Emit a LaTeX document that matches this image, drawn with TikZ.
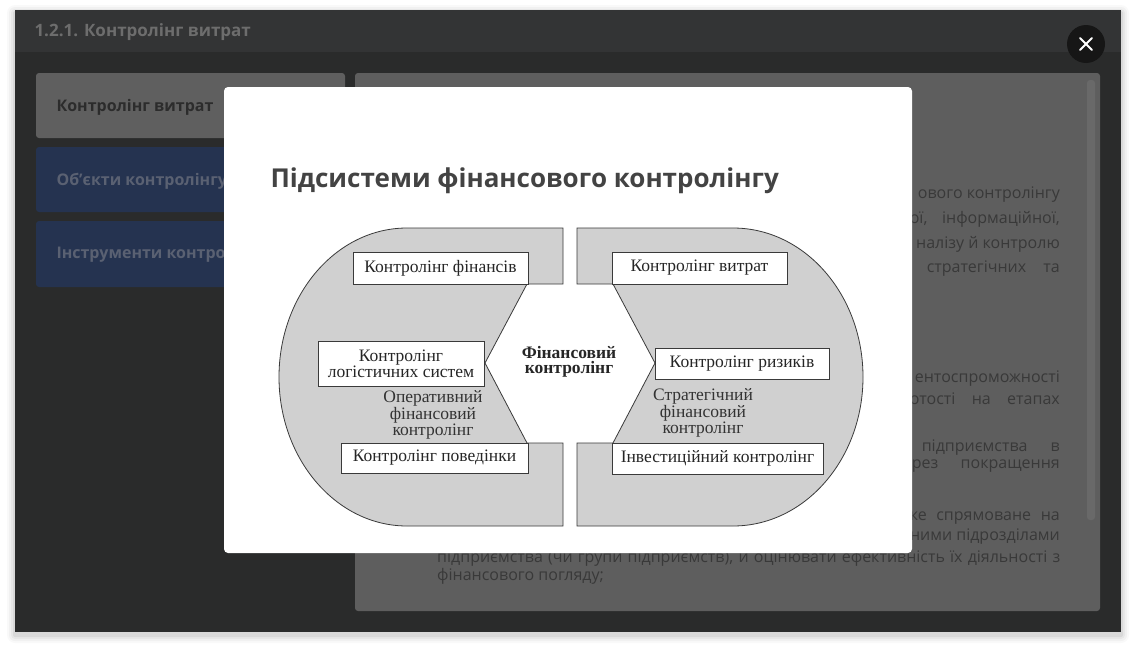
\documentclass[tikz,border=0pt]{standalone}
\usepackage{fontspec}
\setmainfont{Liberation Serif}
\newfontfamily\osans{Open Sans}
\definecolor{winhead}{HTML}{333435}
\definecolor{winbody}{HTML}{2A2B2B}
\definecolor{btngrey}{HTML}{5F5F5F}
\definecolor{btntext}{HTML}{2C2C2C}
\definecolor{btnblue}{HTML}{253350}
\definecolor{btnbluetext}{HTML}{5A6172}
\definecolor{panel}{HTML}{5E5E5E}
\definecolor{scrollc}{HTML}{696969}
\definecolor{ctext}{HTML}{393939}
\definecolor{hdrtext}{HTML}{6D6D6D}
\definecolor{closebg}{HTML}{161616}
\definecolor{titlecol}{HTML}{434343}
\definecolor{dgrey}{HTML}{D0D0D0}
\definecolor{dline}{HTML}{3A3A3A}
\tikzset{
  btnlabel/.style={anchor=west, font=\osans\bfseries\fontsize{16}{19}\selectfont},
  ctxt/.style={anchor=east, inner sep=0pt, text=ctext, font=\osans\fontsize{16}{19}\selectfont},
  ctxtl/.style={anchor=west, inner sep=0pt, text=ctext, font=\osans\fontsize{16}{19}\selectfont},
  half/.style={fill=dgrey, draw=dline, line width=0.8pt, line join=miter},
  subbox/.style={draw=dline, fill=white, line width=0.8pt, inner sep=0pt, align=center, text=black!85,
    font=\fontsize{17.5}{16}\selectfont},
  sublabel/.style={align=center, text=black!80, inner sep=0pt, font=\fontsize{17.5}{15.3}\selectfont}
}
\begin{document}
\begin{tikzpicture}[x=1pt,y=-1pt]
\useasboundingbox (0,0) rectangle (1136,653);
\fill[white] (0,0) rectangle (1136,653);
% window shadow
\foreach \i/\o in {8/0.025,6/0.03,4/0.04,2/0.06}
  \fill[black,opacity=\o,rounded corners=\i] (15-\i,10-\i+3) rectangle (1121+\i,632+\i+3);
% window
\fill[winbody] (15,10) rectangle (1121,632);
\fill[winhead] (15,10) rectangle (1121,52);
\node[anchor=west, text=hdrtext, font=\osans\bfseries\fontsize{17}{20}\selectfont] (hdr) at (31,32) {1.2.1. Контролінг витрат};
% close button
\node[circle, fill=closebg, minimum size=38pt, inner sep=0pt] (close) at (1086,44) {};
\draw[white, line width=2pt, line cap=round] ([shift={(-6,-6)}]close.center) -- ([shift={(6,6)}]close.center);
\draw[white, line width=2pt, line cap=round] ([shift={(-6,6)}]close.center) -- ([shift={(6,-6)}]close.center);
% menu buttons
\fill[btngrey, rounded corners=3] (36,73) rectangle (345,138);
\fill[btnblue, rounded corners=3] (36,147) rectangle (345,212);
\fill[btnblue, rounded corners=3] (36,221) rectangle (345,287);
\node[btnlabel, text=btntext] (b1) at (53,107) {Контролінг витрат};
\node[btnlabel, text=btnbluetext] (b2) at (53,181) {Обʼєкти контролінгу};
\node[btnlabel, text=btnbluetext] (b3) at (53,254) {Інструменти контролінгу};
% content panel
\fill[panel, rounded corners=3] (355,73) rectangle (1100,611);
\fill[scrollc, rounded corners=3] (1087,80) rectangle (1095,520);
% content text fragments
\node[ctxt] (t1) at (1060,195) {ового контролінгу};
\node[ctxt] (t2) at (1060,219.5) {\makebox[150pt][s]{ої, інформаційної,}};
\node[ctxt] (t3) at (1060,244) {налізу й контролю};
\node[ctxt] (t4) at (1060,268.5) {\makebox[133pt][s]{стратегічних та}};
\node[ctxt] (t5) at (1060,379) {ентоспроможності};
\node[ctxt] (t6) at (1060,399) {\makebox[150pt][s]{отості на етапах}};
\node[ctxt] (t7) at (1060,448) {\makebox[138pt][s]{підприємства в}};
\node[ctxt] (t8) at (1060,466) {\makebox[148pt][s]{рез покращення}};
\node[ctxt] (t9) at (1060,518) {\makebox[150pt][s]{ке спрямоване на}};
\node[ctxt] (t10) at (1060,537) {ними підрозділами};
\node[ctxtl] (t11) at (437,558) {\makebox[623pt][s]{підприємства (чи групи підприємств), й оцінювати ефективність їх діяльності з}};
\node[ctxtl] (t12) at (437,576) {фінансового погляду;};
% modal
\fill[white, rounded corners=4] (224,87) rectangle (912,553);
\node[anchor=west, text=titlecol, font=\osans\bfseries\fontsize{26}{30}\selectfont] (title) at (267,181) {Підсистеми фінансового контролінгу};
% diagram halves
\draw[half] (563,228) -- (407,228) arc[start angle=270, end angle=90, x radius=128, y radius=149]
  -- (563,526) -- (563,443) -- (527,443) -- (485,363) -- (527,284) -- (563,284) -- cycle;
\draw[half] (577,228) -- (733,228) arc[start angle=-90, end angle=90, x radius=130, y radius=149]
  -- (577,526) -- (577,443) -- (613,443) -- (655,363) -- (613,284) -- (577,284) -- cycle;
% boxes
\node[subbox, minimum width=175pt, minimum height=32pt] (fin) at (440.5,268) {Контролінг фінансів};
\node[subbox, minimum width=166pt, minimum height=45pt] (log) at (401,363.5) {Контролінг\\логістичних систем};
\node[subbox, minimum width=187pt, minimum height=30pt] (pov) at (434.5,458) {Контролінг поведінки};
\node[subbox, minimum width=175pt, minimum height=32pt] (vyt) at (699.5,268) {Контролінг витрат};
\node[subbox, minimum width=174pt, minimum height=31pt] (ryz) at (742,363.5) {Контролінг ризиків};
\node[subbox, minimum width=211pt, minimum height=31pt] (inv) at (717.5,458.5) {Інвестиційний контролінг};
% labels
\node[sublabel] (oper) at (433,415) {Оперативний\\фінансовий\\контролінг};
\node[sublabel] (strat) at (703,413) {Стратегічний\\фінансовий\\контролінг};
\node[sublabel, font=\bfseries\fontsize{17.5}{15.5}\selectfont, text=black!85] (fk) at (569,362) {Фінансовий\\контролінг};
\end{tikzpicture}
\end{document}
